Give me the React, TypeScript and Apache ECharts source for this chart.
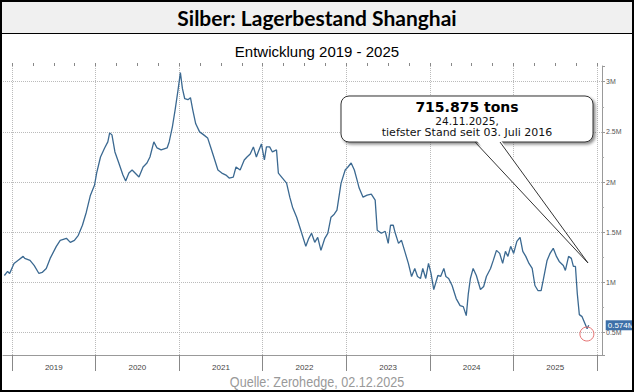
import React, { useEffect, useRef } from 'react';
import * as echarts from 'echarts';

const titleText = 'Silber: Lagerbestand Shanghai';
const subtitleText = 'Entwicklung 2019 - 2025';
const sourceText = 'Quelle: Zerohedge, 02.12.2025';
const calloutTitle = '715.875 tons';
const calloutLine1 = '24.11.2025,';
const calloutLine2 = 'tiefster Stand seit 03. Juli 2016';
const lastValueLabel = '0.574M';

const years = ['2019', '2020', '2021', '2022', '2023', '2024', '2025'];
const quarters = years.flatMap((y) => ['Q1', 'Q2', 'Q3', 'Q4'].map((q) => y + q));

const xMinDate = '2018-11-23';
const xMaxDate = '2026-01-22';
const yMin = 0.278;
const yMax = 3.156;
const circleDate = '2025-11-17';
const circleValue = 0.487;

const dates = [
  '2018-11-29', '2018-12-13', '2018-12-22', '2019-01-10', '2019-01-27', '2019-02-19', '2019-02-26', '2019-03-21',
  '2019-04-08', '2019-04-29', '2019-05-13', '2019-05-31', '2019-06-17', '2019-07-14', '2019-07-31', '2019-08-27',
  '2019-09-13', '2019-10-01', '2019-10-18', '2019-11-05', '2019-11-22', '2019-12-10', '2019-12-28', '2020-01-06',
  '2020-01-23', '2020-02-10', '2020-02-24', '2020-03-03', '2020-03-13', '2020-03-26', '2020-04-12', '2020-04-30',
  '2020-05-12', '2020-05-26', '2020-06-09', '2020-06-22', '2020-07-09', '2020-07-27', '2020-08-13', '2020-08-26',
  '2020-09-12', '2020-09-26', '2020-10-14', '2020-11-09', '2020-11-18', '2020-12-02', '2020-12-14', '2020-12-27',
  '2021-01-06', '2021-01-15', '2021-01-25', '2021-02-08', '2021-02-19', '2021-03-01', '2021-03-14', '2021-03-31',
  '2021-04-18', '2021-05-05', '2021-05-18', '2021-06-01', '2021-06-19', '2021-07-06', '2021-07-24', '2021-08-07',
  '2021-08-25', '2021-09-06', '2021-09-24', '2021-10-12', '2021-10-24', '2021-11-07', '2021-11-21', '2021-12-04',
  '2021-12-12', '2021-12-26', '2022-01-08', '2022-01-17', '2022-01-31', '2022-02-12', '2022-03-02', '2022-03-10',
  '2022-03-28', '2022-04-15', '2022-04-29', '2022-05-11', '2022-05-29', '2022-06-16', '2022-07-08', '2022-07-21',
  '2022-08-02', '2022-08-16', '2022-08-29', '2022-09-12', '2022-09-29', '2022-10-12', '2022-10-26', '2022-11-09',
  '2022-11-21', '2022-12-09', '2022-12-27', '2023-01-08', '2023-01-22', '2023-02-05', '2023-02-17', '2023-02-26',
  '2023-03-15', '2023-04-02', '2023-04-20', '2023-05-07', '2023-05-16', '2023-06-03', '2023-06-20', '2023-07-03',
  '2023-07-13', '2023-07-25', '2023-08-03', '2023-08-17', '2023-08-30', '2023-09-16', '2023-09-29', '2023-10-13',
  '2023-10-27', '2023-11-08', '2023-11-21', '2023-12-01', '2023-12-14', '2023-12-26', '2024-01-06', '2024-01-18',
  '2024-02-05', '2024-02-17', '2024-03-02', '2024-03-11', '2024-03-23', '2024-04-07', '2024-04-25', '2024-05-12',
  '2024-05-26', '2024-06-08', '2024-06-17', '2024-06-26', '2024-07-08', '2024-07-22', '2024-08-09', '2024-08-23',
  '2024-09-04', '2024-09-22', '2024-10-04', '2024-10-18', '2024-11-01', '2024-11-14', '2024-11-26', '2024-12-07',
  '2024-12-19', '2025-01-01', '2025-01-15', '2025-01-29', '2025-02-10', '2025-02-23', '2025-03-09', '2025-03-23',
  '2025-04-04', '2025-04-17', '2025-05-01', '2025-05-10', '2025-05-27', '2025-06-09', '2025-06-23', '2025-07-07',
  '2025-07-19', '2025-08-06', '2025-08-15', '2025-08-29', '2025-09-10', '2025-09-19', '2025-09-28', '2025-10-06',
  '2025-10-15', '2025-10-27', '2025-11-07', '2025-11-18', '2025-11-25',
];

const stocks = [
  1.07, 1.11, 1.09, 1.19, 1.22, 1.26, 1.24, 1.22,
  1.17, 1.09, 1.10, 1.14, 1.24, 1.36, 1.42, 1.44,
  1.40, 1.42, 1.47, 1.57, 1.70, 1.87, 1.97, 2.09,
  2.25, 2.34, 2.40, 2.49, 2.47, 2.30, 2.19, 2.07,
  2.01, 2.09, 2.12, 2.09, 2.05, 2.15, 2.19, 2.25,
  2.40, 2.34, 2.32, 2.34, 2.40, 2.55, 2.72, 2.92,
  3.09, 2.93, 2.83, 2.82, 2.84, 2.72, 2.58, 2.50,
  2.47, 2.44, 2.35, 2.25, 2.12, 2.09, 2.07, 2.04,
  2.05, 2.15, 2.12, 2.22, 2.25, 2.28, 2.35, 2.25,
  2.30, 2.38, 2.22, 2.35, 2.35, 2.30, 2.32, 2.09,
  2.04, 1.99, 1.85, 1.75, 1.65, 1.52, 1.36, 1.44,
  1.49, 1.40, 1.45, 1.32, 1.44, 1.49, 1.65, 1.68,
  1.72, 1.99, 2.12, 2.15, 2.19, 2.12, 2.02, 1.94,
  1.85, 1.87, 1.88, 1.82, 1.52, 1.49, 1.51, 1.39,
  1.57, 1.57, 1.49, 1.39, 1.42, 1.29, 1.19, 1.06,
  1.14, 1.06, 1.04, 1.14, 1.04, 1.19, 1.09, 0.93,
  1.07, 1.06, 1.14, 1.06, 1.04, 0.97, 0.84, 0.77,
  0.76, 0.67, 0.89, 1.04, 1.14, 1.07, 0.93, 0.96,
  1.06, 1.14, 1.22, 1.32, 1.29, 1.19, 1.31, 1.26,
  1.36, 1.29, 1.41, 1.45, 1.31, 1.26, 1.19, 1.14,
  0.97, 0.92, 0.92, 1.02, 1.22, 1.29, 1.34, 1.26,
  1.21, 1.17, 1.12, 1.26, 1.24, 1.16, 1.16, 0.89,
  0.68, 0.66, 0.60, 0.54, 0.574,
];

const ts = (d: string) => new Date(d + 'T00:00:00Z').getTime();

export default function App() {
  const ref = useRef<HTMLDivElement>(null);
  useEffect(() => {
    if (!ref.current) return;
    const chart = echarts.init(ref.current, undefined, { renderer: 'svg' });
    const data = dates.map((d, i) => [ts(d), stocks[i]]);
    const calloutFont = 'DejaVu Sans';
    chart.setOption({
      animation: false,
      backgroundColor: '#fff',
      title: [
        {
          text: titleText, left: 'center', top: 7, padding: 0,
          textStyle: { fontFamily: 'Lato', fontWeight: 'bold', fontSize: 21, color: '#000' },
        },
        {
          text: subtitleText, left: 'center', top: 44, padding: 0,
          textStyle: { fontFamily: 'Liberation Sans', fontWeight: 'normal', fontSize: 15, color: '#000' },
        },
      ],
      grid: [
        { left: 3, right: 32, top: 66, bottom: 37 },
        { left: 12, right: 37, top: 66, bottom: 37 },
      ],
      xAxis: [
        {
          type: 'time', gridIndex: 0, min: ts(xMinDate), max: ts(xMaxDate),
          axisLine: { show: true, lineStyle: { color: '#999' } },
          axisTick: { show: false }, axisLabel: { show: false }, splitLine: { show: false },
        },
        {
          type: 'category', gridIndex: 1, data: years, boundaryGap: true,
          axisLine: { show: false },
          axisTick: { show: true, length: 16, interval: 0, lineStyle: { color: '#888' } },
          axisLabel: { interval: 0, fontSize: 8, color: '#444', margin: 8, fontFamily: 'Liberation Sans' },
          splitLine: { show: true, interval: 0, lineStyle: { type: 'dotted', color: '#bbb' } },
        },
        {
          type: 'category', gridIndex: 1, data: quarters, boundaryGap: true,
          axisLine: { show: false },
          axisTick: { show: true, length: 3, interval: 0, lineStyle: { color: '#888' } },
          axisLabel: { show: false }, splitLine: { show: false },
        },
      ],
      yAxis: [
        {
          type: 'value', gridIndex: 0, position: 'right', min: yMin, max: yMax, splitNumber: 6,
          axisLine: { show: true, lineStyle: { color: '#999' } },
          axisTick: { show: true, length: 3, lineStyle: { color: '#999' } },
          minorTick: { show: true, splitNumber: 2, length: 2, lineStyle: { color: '#aaa' } },
          axisLabel: {
            formatter: (v: number) => v + 'M', fontSize: 7, color: '#555', margin: 4,
            showMinLabel: false, showMaxLabel: false, fontFamily: 'Liberation Sans',
          },
          splitLine: { show: true, showMinLine: false, showMaxLine: false, lineStyle: { type: 'dotted', color: '#bbb' } },
        },
        { type: 'value', gridIndex: 1, show: false },
      ],
      series: [
        {
          type: 'line', xAxisIndex: 0, yAxisIndex: 0, data, showSymbol: false,
          lineStyle: { color: '#3b6991', width: 1.3 },
          endLabel: {
            show: true, formatter: lastValueLabel, distance: 17,
            backgroundColor: '#3d6fa8', color: '#fff', fontSize: 8, padding: [1, 2],
            fontFamily: 'Liberation Sans',
          },
          markPoint: {
            symbol: 'circle', symbolSize: 14, silent: true,
            data: [{ coord: [ts(circleDate), circleValue] }],
            itemStyle: { color: 'rgba(0,0,0,0)', borderColor: '#e57373', borderWidth: 1 },
            label: { show: false },
          },
        },
      ],
      graphic: [
        { type: 'rect', z: 0, shape: { x: 0, y: 0, width: 634, height: 34 }, style: { fill: '#f0f0f0' } },
        { type: 'line', z: 1, shape: { x1: 0, y1: 33.5, x2: 634, y2: 33.5 }, style: { stroke: '#000', lineWidth: 1 } },
        {
          type: 'text', z: 5, x: 317, y: 382, scaleX: 0.84,
          style: { text: sourceText, fontFamily: 'Liberation Sans', fontSize: 15, fill: '#999', textAlign: 'center', textVerticalAlign: 'middle' },
        },
        {
          type: 'rect', z: 20, shape: { x: 341, y: 96, width: 252, height: 46, r: 8 },
          style: { fill: '#fff', stroke: '#333', lineWidth: 1, shadowBlur: 3, shadowOffsetX: 2, shadowOffsetY: 2, shadowColor: 'rgba(0,0,0,0.45)' },
        },
        { type: 'polygon', z: 21, shape: { points: [[475, 139], [500, 139], [588, 263]] }, style: { fill: '#fff' } },
        { type: 'polyline', z: 22, shape: { points: [[475, 142], [588, 263], [500, 142]] }, style: { stroke: '#333', lineWidth: 1, fill: 'none' } },
        {
          type: 'text', z: 23, x: 467, y: 106.5,
          style: { text: calloutTitle, fontFamily: calloutFont, fontWeight: 'bold', fontSize: 14, fill: '#000', textAlign: 'center', textVerticalAlign: 'middle' },
        },
        {
          type: 'text', z: 23, x: 467, y: 120.5,
          style: { text: calloutLine1, fontFamily: calloutFont, fontSize: 10.5, fill: '#111', textAlign: 'center', textVerticalAlign: 'middle' },
        },
        {
          type: 'text', z: 23, x: 467, y: 132,
          style: { text: calloutLine2, fontFamily: calloutFont, fontSize: 11, fill: '#111', textAlign: 'center', textVerticalAlign: 'middle' },
        },
        { type: 'rect', z: 100, shape: { x: 1, y: 1, width: 632, height: 390 }, style: { fill: 'none', stroke: '#000', lineWidth: 2 } },
      ],
    });
    return () => chart.dispose();
  }, []);
  return <div ref={ref} style={{ position: 'fixed', left: 0, top: 0, width: 634, height: 392 }} />;
}
